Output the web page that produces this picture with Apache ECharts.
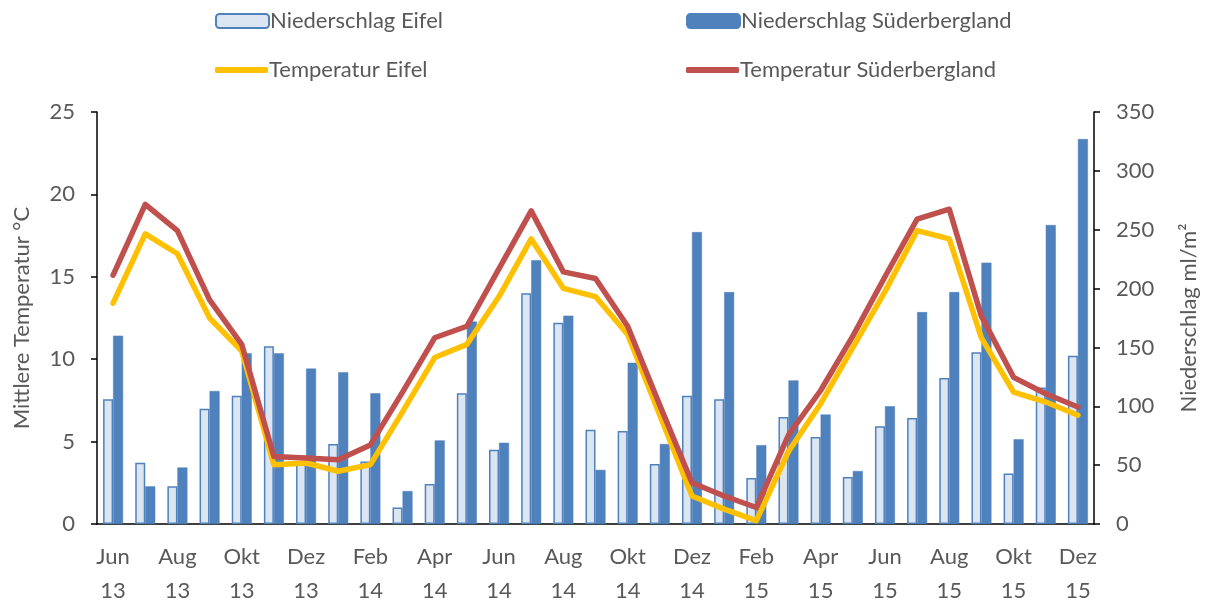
<!DOCTYPE html>
<html>
<head>
<meta charset="utf-8">
<script src="https://cdn.jsdelivr.net/npm/echarts@6/dist/echarts.min.js"></script>
<style>
  html, body { margin: 0; padding: 0; background: #fff; }
  #chart { width: 1206px; height: 602px; }
</style>
</head>
<body>
<div id="chart"></div>
<script>
// months Jun 13 .. Dez 15
var months = [
  'Jun 13', 'Jul 13', 'Aug 13', 'Sep 13', 'Okt 13', 'Nov 13', 'Dez 13',
  'Jan 14', 'Feb 14', 'Mär 14', 'Apr 14', 'Mai 14', 'Jun 14', 'Jul 14', 'Aug 14', 'Sep 14', 'Okt 14', 'Nov 14', 'Dez 14',
  'Jan 15', 'Feb 15', 'Mär 15', 'Apr 15', 'Mai 15', 'Jun 15', 'Jul 15', 'Aug 15', 'Sep 15', 'Okt 15', 'Nov 15', 'Dez 15'
];
// precipitation (ml/m²), right axis
var rainEifel = [106, 52, 32, 98, 109, 151, 52, 68, 53, 14, 34, 111, 63, 196, 171, 80, 79, 51, 109, 106, 39, 91, 74, 40, 83, 90, 124, 146, 43, 116, 143];
var rainSueder = [160, 32, 48, 113, 145, 145, 132, 129, 111, 28, 71, 172, 69, 224, 177, 46, 137, 68, 248, 197, 67, 122, 93, 45, 100, 180, 197, 222, 72, 254, 327];
// mean temperature (°C), left axis
var tempEifel = [13.4, 17.6, 16.4, 12.5, 10.5, 3.6, 3.7, 3.2, 3.6, 6.8, 10.1, 10.9, 13.8, 17.3, 14.3, 13.8, 11.5, 6.6, 1.7, 0.9, 0.2, 4.4, 7.3, 10.7, 14.1, 17.8, 17.3, 11.3, 8.0, 7.4, 6.6];
var tempSueder = [15.1, 19.4, 17.8, 13.6, 10.9, 4.1, 4.0, 3.9, 4.8, 8.0, 11.3, 12.0, 15.5, 19.0, 15.3, 14.9, 12.0, 7.2, 2.5, 1.7, 1.0, 5.4, 8.1, 11.4, 15.0, 18.5, 19.1, 12.6, 8.9, 7.9, 7.1];

var font = 'Lato, "Open Sans", sans-serif';
var grey = '#595959';
var fs = 22;

var dom = document.getElementById('chart');
var myChart = echarts.init(dom);

function legendAt(name, left, top, isLine) {
  return {
    data: isLine ? [{ name: name, icon: 'roundRect' }] : [name],
    left: left,
    top: top,
    itemWidth: 53,
    itemHeight: isLine ? 6 : 14,
    itemGap: 0,
    padding: 0,
    textStyle: { fontFamily: font, fontSize: fs, color: grey, padding: [0, 0, 0, -4] }
  };
}

var option = {
  animation: false,
  backgroundColor: '#fff',
  textStyle: { fontFamily: font },
  legend: [
    legendAt('Niederschlag Eifel', 215, 10, false),
    legendAt('Niederschlag Süderbergland', 686, 10, false),
    legendAt('Temperatur Eifel', 215, 59, true),
    legendAt('Temperatur Süderbergland', 686, 59, true)
  ],
  grid: { left: 97, right: 112, top: 112, bottom: 78, outerBoundsMode: 'none' },
  xAxis: {
    type: 'category',
    data: months,
    axisLine: { lineStyle: { color: '#000', width: 1.5 } },
    axisTick: { interval: 0, length: 6, lineStyle: { color: '#000', width: 1.5 } },
    axisLabel: {
      interval: 1,
      margin: 16,
      fontFamily: font,
      fontSize: fs,
      color: grey,
      lineHeight: 34,
      formatter: function (v) { return v.replace(' ', '\n'); }
    }
  },
  yAxis: [{
    type: 'value',
    min: 0, max: 25, interval: 5,
    name: 'Mittlere Temperatur °C',
    nameLocation: 'middle',
    nameGap: 64,
    nameTextStyle: { fontFamily: font, fontSize: fs, color: grey },
    splitLine: { show: false },
    axisLine: { show: true, lineStyle: { color: '#000', width: 1.5 } },
    axisTick: { show: true, length: 6, lineStyle: { color: '#000', width: 1.5 } },
    axisLabel: { margin: 22, fontFamily: font, fontSize: fs, color: grey }
  }, {
    type: 'value',
    min: 0, max: 350, interval: 50,
    name: 'Niederschlag ml/m²',
    nameLocation: 'middle',
    nameGap: 84,
    nameRotate: 90,
    nameTextStyle: { fontFamily: font, fontSize: fs, color: grey },
    splitLine: { show: false },
    axisLine: { show: true, lineStyle: { color: '#000', width: 1.5 } },
    axisTick: { show: true, length: 6, lineStyle: { color: '#000', width: 1.5 } },
    axisLabel: { margin: 22, fontFamily: font, fontSize: fs, color: grey }
  }],
  series: [{
    name: 'Niederschlag Eifel',
    type: 'bar',
    yAxisIndex: 1,
    barWidth: 10,
    barGap: '0%',
    itemStyle: { color: '#DCE6F2', borderColor: '#4F81BD', borderWidth: 1.5 },
    data: rainEifel
  }, {
    name: 'Niederschlag Süderbergland',
    type: 'bar',
    yAxisIndex: 1,
    barWidth: 10,
    barGap: '0%',
    itemStyle: { color: '#4F81BD', borderColor: '#4F81BD', borderWidth: 0.5 },
    data: rainSueder
  }, {
    name: 'Temperatur Eifel',
    type: 'line',
    yAxisIndex: 0,
    symbol: 'none',
    itemStyle: { color: '#FFC000' },
    lineStyle: { color: '#FFC000', width: 5.5, cap: 'round', join: 'round' },
    data: tempEifel
  }, {
    name: 'Temperatur Süderbergland',
    type: 'line',
    yAxisIndex: 0,
    symbol: 'none',
    itemStyle: { color: '#C0504D' },
    lineStyle: { color: '#C0504D', width: 5.5, cap: 'round', join: 'round' },
    data: tempSueder
  }]
};

myChart.setOption(option, true);
window.addEventListener('resize', function () {
  myChart.resize();
});
</script>
</body>
</html>
